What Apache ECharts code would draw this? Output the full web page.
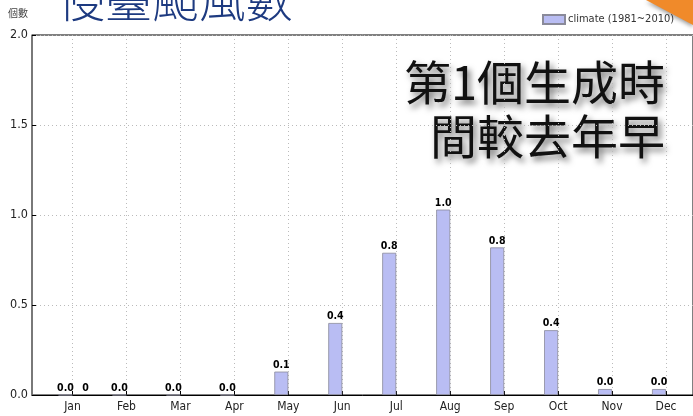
<!DOCTYPE html>
<html>
<head>
<meta charset="utf-8">
<script src="https://cdn.jsdelivr.net/npm/echarts@6/dist/echarts.min.js"></script>
<style>
html,body{margin:0;padding:0;background:#fff;}
#c{width:693px;height:416px;}
</style>
</head>
<body>
<div id="c"></div>
<script>
var months = ['Jan','Feb','Mar','Apr','May','Jun','Jul','Aug','Sep','Oct','Nov','Dec'];
var climate = [0.0, 0.0, 0.0, 0.0, 0.13, 0.4, 0.79, 1.03, 0.82, 0.36, 0.033, 0.033];
var current = [0];
var yTicks = [0, 0.5, 1.0, 1.5, 2.0];

var narrow = '"DejaVu Sans Condensed", "Liberation Sans Narrow", "DejaVu Sans", sans-serif';
var chart = echarts.init(document.getElementById('c'));
var monthIdx = months.map(function (m, i) { return i; });

chart.setOption({
  animation: false,
  backgroundColor: '#fff',
  grid: { left: 32, right: 0, top: 35, bottom: 21, show: true, borderColor: '#000', borderWidth: 1 },
  legend: {
    data: ['climate (1981~2010)'],
    left: 537, top: 9,
    itemWidth: 22, itemHeight: 9, itemGap: 4,
    icon: 'rect',
    textStyle: { fontFamily: narrow, fontSize: 11, color: '#333', padding: [0,0,0,-2] }
  },
  xAxis: {
    type: 'value',
    min: -0.75, max: 11.5,
    axisLine: { show: true, onZero: false, lineStyle: { color: '#000' } },
    axisTick: { show: true, inside: true, length: 4, customValues: monthIdx, lineStyle: { color: '#000' } },
    axisLabel: {
      customValues: monthIdx,
      formatter: function (v) { return months[Math.round(v)] || ''; },
      fontFamily: narrow, fontSize: 12, color: '#222', margin: 6
    },
    splitLine: { show: true, lineStyle: { color: '#bbb', type: [1, 3], width: 1 } }
  },
  yAxis: {
    type: 'value',
    min: 0, max: 2, interval: 0.5,
    axisLine: { show: true, onZero: false, lineStyle: { color: '#777', width: 1.5 } },
    axisTick: { show: true, inside: true, length: 4, lineStyle: { color: '#000' } },
    axisLabel: {
      formatter: function (v) { return v.toFixed(1); },
      fontFamily: narrow, fontSize: 12.5, color: '#222', margin: 4
    },
    splitLine: { show: true, lineStyle: { color: '#bbb', type: [1, 3], width: 1 } }
  },
  series: [
    {
      name: 'climate (1981~2010)',
      type: 'bar',
      barWidth: 14,
      barGap: '0%',
      data: climate.map(function (v, i) { return [i, v]; }),
      itemStyle: { color: '#b9bdf3', borderColor: '#8a8a9a', borderWidth: 0.8 },
      label: {
        show: true, position: 'top', distance: 1,
        formatter: function (p) { return p.value[1].toFixed(1); },
        fontFamily: narrow, fontSize: 10.5, fontWeight: 'bold', color: '#000'
      }
    },
    {
      name: 'current',
      type: 'bar',
      barWidth: 14,
      barGap: '0%',
      data: current.map(function (v, i) { return [i, v]; }),
      itemStyle: { color: '#f0a0a0' },
      label: {
        show: true, position: 'top', distance: 1, offset: [6, 0],
        formatter: function (p) { return String(p.value[1]); },
        fontFamily: narrow, fontSize: 10.5, fontWeight: 'bold', color: '#000'
      }
    }
  ],
  graphic: [
    {
      type: 'text', left: 8, top: 8,
      style: { text: '個數', font: '10px "Noto Sans CJK TC"', fill: '#444' }
    },
    {
      type: 'text', left: 58, top: -24,
      style: { text: '侵臺颱風數', font: '300 47px "Noto Sans CJK TC"', fill: '#1d3a80' }
    },
    {
      type: 'text', x: 665, y: 55,
      style: {
        text: '第1個生成時\n間較去年早', font: '47px "Noto Sans CJK TC"', fill: '#111',
        align: 'right', verticalAlign: 'top', lineHeight: 54,
        textShadowColor: 'rgba(0,0,0,0.55)', textShadowBlur: 6, textShadowOffsetX: 3, textShadowOffsetY: 4
      }
    },
    {
      type: 'polygon',
      shape: { points: [[646, 0], [693, 0], [693, 25]] },
      style: { fill: '#f08a2a', shadowColor: 'rgba(0,0,0,0.4)', shadowBlur: 4, shadowOffsetY: 2 }
    }
  ]
});
</script>
</body>
</html>
